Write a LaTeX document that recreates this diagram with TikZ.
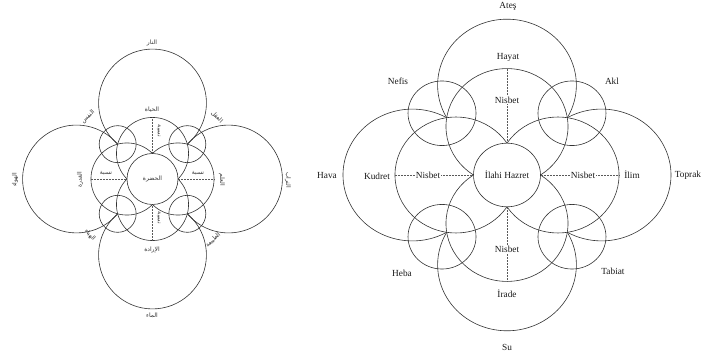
\documentclass[tikz,border=0pt]{standalone}
\usepackage{fontspec}
\setmainfont{Liberation Serif}
\newfontfamily\arabicfont[Script=Arabic]{DejaVu Sans}
\TeXXeTstate=1
\usetikzlibrary{shapes.geometric}
\begin{document}
\begin{tikzpicture}[x=1pt,y=1pt,
  ln/.style={line width=0.6pt, draw=black!80},
  nisb/.style={line width=0.5pt, draw=black!65, densely dotted},
  lab/.style={font=\fontsize{9.3}{11}\selectfont, inner sep=1pt, text=black!90},
  ar/.style={font=\arabicfont\fontsize{6}{7}\selectfont, inner sep=0.5pt, text=black!80},
]
\useasboundingbox (0,0) rectangle (702,361);

% ===== left (Arabic) diagram =====
\begin{scope}[shift={(152.5,182)}, x=10pt, y=10pt]
  \pgfmathsetmacro\Rz{2.55}
  \pgfmathsetmacro\dm{2.55}
  \pgfmathsetmacro\rMed{sqrt(\dm*\dm+\Rz*\Rz)}
  \pgfmathsetmacro\cv{\dm/2+sqrt(\rMed*\rMed-\dm*\dm/2)/sqrt(2)}
  \pgfmathsetmacro\Db{7.6}
  \pgfmathsetmacro\rBig{sqrt((\Db-\cv)*(\Db-\cv)+\cv*\cv)}
  \pgfmathsetmacro\phiB{atan2(\cv,\Db-\cv)}
  \foreach \t in {0,90,180,270}
    \draw[ln] (\t:\Db) ++({\t+180-\phiB}:\rBig) arc[start angle={\t+180-\phiB}, end angle={\t-180+\phiB}, radius=\rBig];
  \foreach \t in {0,90,180,270}
    \draw[ln] (\t:\dm) circle[radius=\rMed];
  \foreach \t in {45,135,225,315}
    \draw[ln] (\t:{\cv*sqrt(2)}) circle[radius=1.85];
  \coordinate (aT) at (90:{\dm+\rMed});
  \coordinate (aB) at (270:{\dm+\rMed});
  \coordinate (aL) at (180:{\dm+\rMed});
  \coordinate (aR) at (0:{\dm+\rMed});
\end{scope}
\node[circle, ln, fill=white, minimum size=51pt, inner sep=0, ar] (hdA) at (152.5,182) {\beginR الحضرة\endR};
\draw[nisb] (aT) -- (hdA);
\draw[nisb] (aB) -- (hdA);
\draw[nisb] (aL) -- (hdA);
\draw[nisb] (aR) -- (hdA);

\node[ar] (aNar) at (152,318) {\beginR النار\endR};
\node[ar] (aHay) at (152,251) {\beginR الحياة\endR};
\node[ar, rotate=45] (aNafs) at (88,244) {\beginR النفس\endR};
\node[ar, rotate=-45] (aAql) at (217,244) {\beginR العقل\endR};
\node[ar, rotate=90] (aHawa) at (15,181) {\beginR الهواء\endR};
\node[ar, rotate=90] (aQud) at (80,181) {\beginR القدرة\endR};
\node[ar] (aNisL) at (106,188) {\beginR نسبة\endR};
\node[ar] (aNisR) at (198,188) {\beginR نسبة\endR};
\node[ar, rotate=-90] (aIlm) at (222,181) {\beginR العلم\endR};
\node[ar, rotate=-90] (aTur) at (288,181) {\beginR التراب\endR};
\node[ar, rotate=-45] (aHaba) at (90,126) {\beginR الهباء\endR};
\node[ar, rotate=45] (aTab) at (213,121) {\beginR الطبيعة\endR};
\node[ar, rotate=-90] (aNisT) at (159,230) {\beginR نسبة\endR};
\node[ar, rotate=-90] (aNisB) at (159,143) {\beginR نسبة\endR};
\node[ar] (aIra) at (152,111) {\beginR الإرادة\endR};
\node[ar] (aMa) at (152,46) {\beginR الماء\endR};

% ===== right (Turkish) diagram =====
\begin{scope}[shift={(507,186)}, x=10pt, y=9.5pt]
  \pgfmathsetmacro\Rz{3.35}
  \pgfmathsetmacro\dm{5.1}
  \pgfmathsetmacro\rMed{sqrt(\dm*\dm+\Rz*\Rz)}
  \pgfmathsetmacro\cv{\dm/2+sqrt(\rMed*\rMed-\dm*\dm/2)/sqrt(2)}
  \pgfmathsetmacro\Eo{16.4}
  \pgfmathsetmacro\Db{(\Eo*\Eo-2*\cv*\cv)/(2*(\Eo-\cv))}
  \pgfmathsetmacro\rBig{\Eo-\Db}
  \pgfmathsetmacro\phiB{atan2(\cv,\Db-\cv)}
  \foreach \t in {0,90,180,270}
    \draw[ln] (\t:\Db) ++({\t+180-\phiB}:\rBig) arc[start angle={\t+180-\phiB}, end angle={\t-180+\phiB}, radius=\rBig];
  \foreach \t in {0,90,180,270}
    \draw[ln] (\t:\dm) circle[radius=\rMed];
  \foreach \t in {45,135,225,315}
    \draw[ln] (\t:9.19) circle[radius=3.4];
  \coordinate (hayT) at (90:{\dm+\rMed});
  \coordinate (iraB) at (270:{\dm+\rMed});
  \coordinate (kudL) at (180:{\dm+\rMed});
  \coordinate (ilmR) at (0:{\dm+\rMed});
\end{scope}
\node[ellipse, ln, fill=white, minimum width=67pt, minimum height=63.65pt, inner sep=0, lab] (hz) at (507,186) {İlahi Hazret};

\node[lab] (ates) at (508,355) {Ateş};
\node[lab] (hayat) at (508,304) {Hayat};
\node[lab] (nefis) at (398,280) {Nefis};
\node[lab] (akl) at (612,280) {Akl};
\node[lab] (hava) at (327,185) {Hava};
\node[lab] (kudret) at (377,185) {Kudret};
\node[lab] (ilim) at (632,186) {İlim};
\node[lab] (toprak) at (688,186) {Toprak};
\node[lab] (heba) at (402,88) {Heba};
\node[lab] (tabiat) at (613,90) {Tabiat};
\node[lab] (irade) at (507,67) {İrade};
\node[lab] (su) at (507,14) {Su};

\node[lab] (nisT) at (507,261) {Nisbet};
\node[lab] (nisB) at (507,112) {Nisbet};
\node[lab] (nisL) at (428,186) {Nisbet};
\node[lab] (nisR) at (583,186) {Nisbet};
\draw[nisb] (hayT) -- (nisT);
\draw[nisb] (nisT) -- (hz);
\draw[nisb] (iraB) -- (nisB);
\draw[nisb] (nisB) -- (hz);
\draw[nisb] (kudL) -- (nisL);
\draw[nisb] (nisL) -- (hz);
\draw[nisb] (ilmR) -- (nisR);
\draw[nisb] (nisR) -- (hz);
\end{tikzpicture}
\end{document}
